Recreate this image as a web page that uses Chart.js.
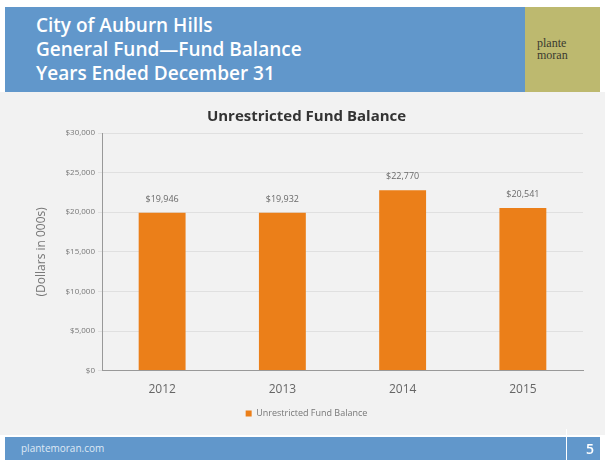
<!DOCTYPE html>
<html>
<head>
<meta charset="utf-8">
<script src="https://cdn.jsdelivr.net/npm/chart.js@4"></script>
<style>
  body { margin: 0; width: 605px; height: 462px; background: #fff; position: relative; overflow: hidden; font-family: "Open Sans", "DejaVu Sans", sans-serif; }
  #header { position: absolute; left: 5px; top: 7px; width: 520px; height: 85px; background: #6197cb; }
  #header div { position: absolute; left: 31px; top: 6px; color: #fff; font-size: 19px; line-height: 24px; font-weight: 600; }
  #logo { position: absolute; left: 525px; top: 7px; width: 75px; height: 85px; background: #bdb96f; }
  #logo span { position: absolute; left: 12px; top: 30px; font-size: 12px; line-height: 12px; color: #3a3a30; font-family: "Liberation Serif", serif; }
  #panel { position: absolute; left: 0; top: 92px; width: 605px; height: 343px; background: #f2f2f2; }
  #chartBox { position: absolute; left: 0; top: 95px; width: 605px; height: 335px; }
  #footer { position: absolute; left: 5px; top: 437px; width: 595px; height: 23px; background: #6197cb; }
  #footer .url { position: absolute; left: 16px; top: 4px; color: #dfe9f5; font-size: 10px; }
  #footer .sep { position: absolute; left: 561px; top: -8px; width: 1px; height: 31px; background: #fff; }
  #footer .num { position: absolute; left: 581px; top: 2px; color: #fff; font-size: 14px; font-weight: 600; }
</style>
</head>
<body>
<div id="header"><div>City of Auburn Hills<br>General Fund—Fund Balance<br>Years Ended December 31</div></div>
<div id="logo"><span>plante<br>moran</span></div>
<div id="panel"></div>
<div id="chartBox"><canvas id="chart"></canvas></div>
<div id="footer"><span class="url">plantemoran.com</span><span class="sep"></span><span class="num">5</span></div>
<script>
  const years = ["2012", "2013", "2014", "2015"];
  const fundBalance = [19946, 19932, 22770, 20541];
  const valueLabels = ["$19,946", "$19,932", "$22,770", "$20,541"];

  const money = v => "$" + v.toLocaleString("en-US");

  // draws the value above each bar
  const barLabels = {
    id: "barLabels",
    afterDatasetsDraw(chart) {
      const ctx = chart.ctx;
      const meta = chart.getDatasetMeta(0);
      ctx.save();
      ctx.font = "9px 'Open Sans', sans-serif";
      ctx.fillStyle = "#6a6a6a";
      ctx.textAlign = "center";
      ctx.textBaseline = "bottom";
      meta.data.forEach((bar, i) => {
        ctx.fillText(valueLabels[i], bar.x, bar.y - 9);
      });
      ctx.restore();
    }
  };

  new Chart(document.getElementById("chart"), {
    type: "bar",
    data: {
      labels: years,
      datasets: [{
        label: "Unrestricted Fund Balance",
        data: fundBalance,
        backgroundColor: "#eb7f19",
        barPercentage: 0.78,
        categoryPercentage: 0.5
      }]
    },
    options: {
      responsive: true,
      maintainAspectRatio: false,
      animation: false,
      layout: { padding: { left: 30, right: 22, top: 0, bottom: 2 } },
      plugins: {
        title: {
          display: true,
          text: "Unrestricted Fund Balance",
          color: "#333",
          font: { size: 15, weight: "bold", family: "'Open Sans', sans-serif" },
          padding: { top: 13, bottom: 7 }
        },
        legend: {
          position: "bottom",
          labels: { boxWidth: 6, boxHeight: 6, color: "#777", font: { size: 9, family: "'Open Sans', sans-serif" }, padding: 8 }
        },
        tooltip: { enabled: false }
      },
      scales: {
        x: {
          grid: { display: false, drawTicks: true },
          border: { color: "#999" },
          ticks: { color: "#666", font: { size: 12, family: "'Open Sans', sans-serif" }, padding: 4 }
        },
        y: {
          min: 0,
          max: 30000,
          afterFit(scale) { scale.width = 72; },
          ticks: {
            stepSize: 5000,
            color: "#777",
            font: { size: 8, family: "'Open Sans', sans-serif" },
            callback: v => money(v)
          },
          grid: { color: "#e0e0e0", drawTicks: true, tickLength: 4 },
          border: { color: "#999" },
          title: {
            display: true,
            text: "(Dollars in 000s)",
            color: "#777",
            font: { size: 12, family: "'Open Sans', sans-serif" },
            padding: { bottom: 4 }
          }
        }
      }
    },
    plugins: [barLabels]
  });
</script>
</body>
</html>
